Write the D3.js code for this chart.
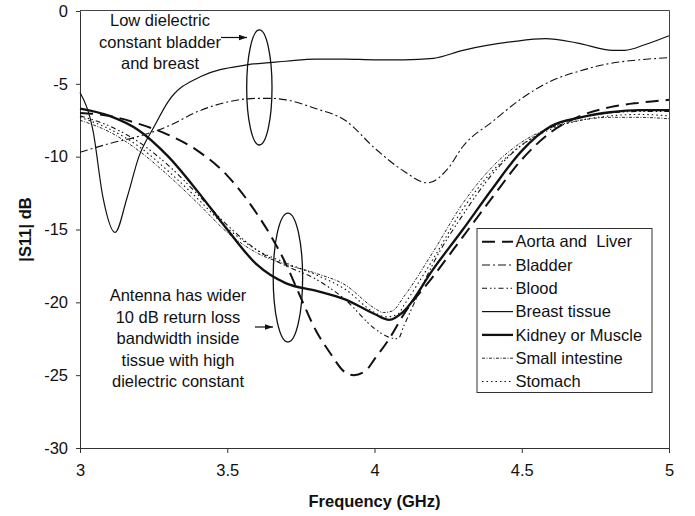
<!DOCTYPE html>
<html lang="en">
<head>
<meta charset="UTF-8">
<script src="https://d3js.org/d3.v7.min.js"></script>
<title>|S11| vs frequency</title>
<style>
  body { margin: 0; background: #fff; }
  text { font-family: "Liberation Sans", Arial, sans-serif; fill: #111; }
  .tick text { font-size: 16.5px; }
</style>
</head>
<body>
<div id="chart"></div>
<script>

// series (frequency in GHz, |S11| in dB)
var aortaF  = [3.0, 3.1, 3.2, 3.3, 3.4, 3.5, 3.6, 3.65, 3.7, 3.75, 3.8, 3.85, 3.9, 3.93, 3.97, 4.0, 4.05, 4.1, 4.2, 4.3, 4.4, 4.5, 4.6, 4.7, 4.8, 4.9, 5.0];
var aortaDb = [-7.0, -7.2, -7.75, -8.5, -9.6, -11.3, -13.9, -15.5, -17.4, -19.7, -21.9, -23.5, -24.8, -25.0, -24.7, -23.9, -22.5, -20.8, -18.2, -15.5, -12.8, -10.2, -8.3, -7.2, -6.6, -6.3, -6.1];

var bladderF  = [3.0, 3.1, 3.2, 3.3, 3.4, 3.5, 3.6, 3.65, 3.7, 3.8, 3.9, 4.0, 4.1, 4.18, 4.25, 4.3, 4.4, 4.5, 4.6, 4.7, 4.8, 4.9, 5.0];
var bladderDb = [-9.7, -9.1, -8.6, -7.9, -6.9, -6.25, -6.0, -6.0, -6.1, -6.7, -7.5, -9.4, -11.0, -11.8, -10.8, -9.3, -7.6, -6.0, -4.8, -4.1, -3.6, -3.35, -3.2];

var bloodF  = [3.0, 3.1, 3.2, 3.3, 3.4, 3.5, 3.6, 3.7, 3.8, 3.9, 4.0, 4.05, 4.08, 4.1, 4.15, 4.2, 4.3, 4.4, 4.5, 4.6, 4.7, 4.8, 4.9, 5.0];
var bloodDb = [-7.2, -7.9, -9.0, -10.6, -12.6, -14.7, -16.4, -17.5, -18.4, -19.8, -21.8, -22.4, -22.5, -21.6, -19.4, -17.3, -14.0, -11.2, -9.2, -8.0, -7.3, -7.0, -6.9, -6.9];

var breastF  = [3.0, 3.044, 3.078, 3.119, 3.16, 3.2, 3.25, 3.3, 3.41, 3.567, 3.7, 3.8, 3.9, 4.0, 4.1, 4.2, 4.3, 4.47, 4.58, 4.69, 4.81, 4.85, 4.92, 5.0];
var breastDb = [-5.6, -8.2, -12.8, -15.2, -12.8, -10.0, -8.0, -6.2, -4.5, -3.7, -3.45, -3.3, -3.3, -3.35, -3.35, -3.25, -2.7, -2.1, -1.9, -2.2, -2.7, -2.7, -2.3, -1.7];

var kidneyF  = [3.0, 3.1, 3.2, 3.3, 3.4, 3.5, 3.6, 3.7, 3.8, 3.9, 4.0, 4.05, 4.1, 4.2, 4.3, 4.4, 4.5, 4.6, 4.7, 4.8, 4.9, 5.0];
var kidneyDb = [-6.7, -7.2, -8.2, -10.0, -12.4, -15.0, -17.4, -18.7, -19.2, -19.8, -20.8, -21.2, -20.6, -17.7, -15.0, -12.2, -9.6, -7.9, -7.3, -6.95, -6.8, -6.8];

var intestineF  = [3.0, 3.1, 3.2, 3.3, 3.4, 3.5, 3.6, 3.7, 3.8, 3.9, 4.0, 4.03, 4.06, 4.1, 4.2, 4.3, 4.4, 4.5, 4.6, 4.7, 4.8, 4.9, 5.0];
var intestineDb = [-7.5, -8.3, -9.6, -11.3, -13.2, -15.2, -16.6, -17.4, -18.0, -18.8, -20.4, -20.7, -20.6, -19.6, -16.5, -13.2, -10.7, -9.0, -8.0, -7.5, -7.3, -7.3, -7.4];

var stomachF  = [3.0, 3.1, 3.2, 3.3, 3.4, 3.5, 3.6, 3.7, 3.8, 3.9, 4.0, 4.04, 4.08, 4.1, 4.2, 4.3, 4.4, 4.5, 4.6, 4.7, 4.8, 4.9, 5.0];
var stomachDb = [-7.3, -8.1, -9.3, -11.0, -12.9, -14.9, -16.4, -17.3, -18.1, -19.1, -20.7, -21.0, -20.8, -20.2, -17.0, -13.6, -11.0, -9.2, -8.1, -7.5, -7.2, -7.1, -7.2];

var legendNames = ["Aorta and  Liver", "Bladder", "Blood", "Breast tissue", "Kidney or Muscle", "Small intestine", "Stomach"];
var xTicks = [3, 3.5, 4, 4.5, 5];
var yTicks = [-30, -25, -20, -15, -10, -5, 0];

// line styles, same order as the legend
var styles = [
  {w: 2.0, dash: "13,7"},
  {w: 1.1, dash: "8,3,2,3"},
  {w: 1.1, dash: "5,3,1.5,2.5,1.5,3"},
  {w: 1.2, dash: null},
  {w: 2.3, dash: null},
  {w: 0.9, dash: "3,1.5,1,1.5"},
  {w: 1.1, dash: "1.5,3"}
];

var series = [
  [aortaF, aortaDb], [bladderF, bladderDb], [bloodF, bloodDb], [breastF, breastDb],
  [kidneyF, kidneyDb], [intestineF, intestineDb], [stomachF, stomachDb]
].map(function(s, i) {
  return { name: legendNames[i], pts: s[0].map(function(f, j) { return [f, s[1][j]]; }), style: styles[i] };
});

var W = 695, H = 516;
var svg = d3.select("#chart").append("svg").attr("width", W).attr("height", H);

var x = d3.scaleLinear().domain([3, 5]).range([80, 669]);
var y = d3.scaleLinear().domain([-30, 0]).range([448, 11]);

// frame (top and right)
svg.append("path")
  .attr("d", "M" + x(3) + "," + (y(0) - 0.5) + "H" + (x(5) + 0.5) + "V" + y(-30))
  .attr("fill", "none").attr("stroke", "#444").attr("stroke-width", 1);

// axes
var gx = svg.append("g").attr("transform", "translate(0," + y(-30) + ")")
  .call(d3.axisBottom(x).tickValues(xTicks).tickSize(5).tickPadding(11).tickFormat(function(d) { return String(d); }));
var gy = svg.append("g").attr("transform", "translate(" + x(3) + ",0)")
  .call(d3.axisLeft(y).tickValues(yTicks).tickSize(4).tickPadding(8).tickFormat(function(d) { return String(d); }));
[gx, gy].forEach(function(g) {
  g.select(".domain").attr("stroke", "#333");
  g.selectAll(".tick line").attr("stroke", "#333");
  g.selectAll(".tick text").attr("fill", "#111").style("font-family", "'Liberation Sans', Arial, sans-serif");
});

// axis titles
svg.append("text").attr("x", (x(3) + x(5)) / 2).attr("y", 507)
  .attr("text-anchor", "middle").style("font-size", "16.5px").style("font-weight", "bold")
  .text("Frequency (GHz)");
svg.append("text").attr("transform", "translate(25," + ((y(0) + y(-30)) / 2) + ") rotate(-90)")
  .attr("dy", "0.35em").attr("text-anchor", "middle").style("font-size", "16.5px").style("font-weight", "bold")
  .text("|S11| dB");

// curves
var line = d3.line().x(function(d) { return x(d[0]); }).y(function(d) { return y(d[1]); })
  .curve(d3.curveMonotoneX);
svg.append("g").selectAll("path").data(series).enter().append("path")
  .attr("d", function(d) { return line(d.pts); })
  .attr("fill", "none").attr("stroke", "#111")
  .attr("stroke-width", function(d) { return d.style.w; })
  .attr("stroke-dasharray", function(d) { return d.style.dash; });

// annotations
svg.append("defs").append("marker").attr("id", "arr")
  .attr("viewBox", "0 0 10 10").attr("refX", 10).attr("refY", 5)
  .attr("markerWidth", 7).attr("markerHeight", 7).attr("orient", "auto")
  .append("path").attr("d", "M0,1.5L10,5L0,8.5z").attr("fill", "#111");

function ellipse(f, db, df, ddb) {
  svg.append("ellipse")
    .attr("cx", x(f)).attr("cy", y(db))
    .attr("rx", x(f + df) - x(f)).attr("ry", y(db - ddb) - y(db))
    .attr("fill", "none").attr("stroke", "#111").attr("stroke-width", 1.3);
}
ellipse(3.609, -5.25, 0.043, 3.95);
ellipse(3.706, -18.3, 0.05, 4.43);

function note(lines, cx, y0) {
  lines.forEach(function(t, i) {
    svg.append("text").attr("x", cx).attr("y", y0 + i * 21.6)
      .attr("text-anchor", "middle").style("font-size", "16.5px").text(t);
  });
}
note(["Low dielectric", "constant bladder", "and breast"], 160, 26);
note(["Antenna has wider", "10 dB return loss", "bandwidth inside", "tissue with high", "dielectric constant"], 178, 301);

svg.append("line").attr("x1", 221).attr("y1", 37.5).attr("x2", 247).attr("y2", 37.5)
  .attr("stroke", "#111").attr("stroke-width", 1.2).attr("marker-end", "url(#arr)");
svg.append("line").attr("x1", 255).attr("y1", 327).attr("x2", 273).attr("y2", 327)
  .attr("stroke", "#111").attr("stroke-width", 1.2).attr("marker-end", "url(#arr)");

// legend
var lg = svg.append("g");
lg.append("rect").attr("x", 477).attr("y", 228.5).attr("width", 175).attr("height", 164)
  .attr("fill", "#fff").attr("stroke", "#333").attr("stroke-width", 1);
var rows = lg.selectAll("g.row").data(series).enter().append("g")
  .attr("transform", function(d, i) { return "translate(0," + (241.7 + i * 23.3) + ")"; });
rows.append("line").attr("x1", 482).attr("x2", 513).attr("y1", 0).attr("y2", 0)
  .attr("stroke", "#111")
  .attr("stroke-width", function(d) { return d.style.w; })
  .attr("stroke-dasharray", function(d) { return d.style.dash; });
rows.append("text").attr("x", 515.5).attr("dy", "0.35em").style("font-size", "16.5px")
  .style("white-space", "pre").text(function(d) { return d.name; });

</script>
</body>
</html>
